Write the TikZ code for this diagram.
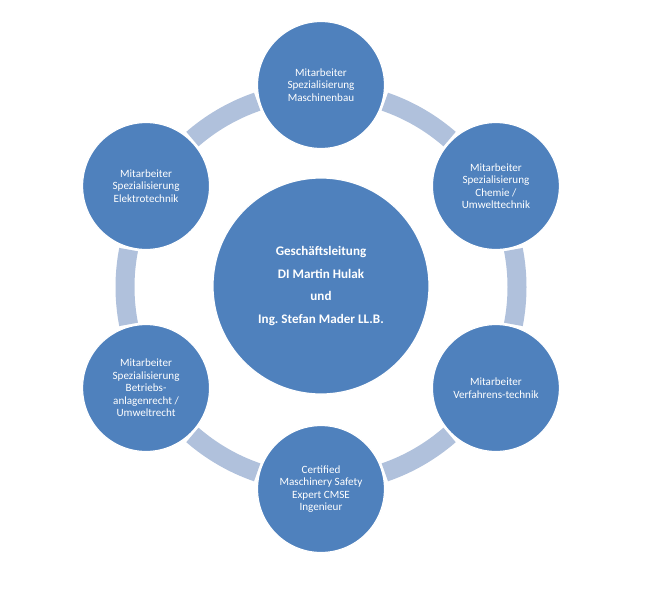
\documentclass[tikz,border=0pt]{standalone}
\usepackage{fontspec}
\setmainfont{Carlito}
\usetikzlibrary{calc}
\definecolor{circblue}{HTML}{4F81BD}
\definecolor{ringblue}{HTML}{B0C1DC}
\frenchspacing
\begin{document}
\begin{tikzpicture}[x=1pt,y=-1pt,
  outer/.style={circle,fill=circblue,draw=white,line width=1.2pt,minimum size=127pt,inner sep=0pt,text=white,align=center,font=\fontsize{11.1}{12.5}\selectfont},
  hub/.style={circle,fill=circblue,draw=white,line width=1.2pt,minimum size=216pt,inner sep=0pt,text=white,align=center,font=\bfseries\fontsize{13.1}{22.7}\selectfont},
  ringseg/.style={draw=ringblue,line width=19pt}]
\useasboundingbox (0,0) rectangle (666,590);
\coordinate (O) at (321,287);
\foreach \a in {30,90,150,210,270,330}
  \draw[ringseg] ($(O)+(\a+19:196)$) arc[start angle=\a+19, end angle=\a+41, radius=196];
\node[hub] (hub) at (321,286) {Geschäftsleitung\\DI Martin Hulak\\und\\Ing. Stefan Mader LL.B.};
\node[outer] (top) at ($(O)+(-90:202)$) {Mitarbeiter\\Spezialisierung\\Maschinenbau};
\node[outer] (ur) at ($(O)+(-30:202)$) {Mitarbeiter\\Spezialisierung\\Chemie /\\Umwelttechnik};
\node[outer] (lr) at ($(O)+(30:202)$) {Mitarbeiter\\Verfahrens-technik};
\node[outer] (bot) at ($(O)+(90:202)$) {Certified\\Maschinery Safety\\Expert CMSE\\Ingenieur};
\node[outer] (ll) at ($(O)+(150:202)$) {Mitarbeiter\\Spezialisierung\\Betriebs-\\anlagenrecht /\\Umweltrecht};
\node[outer] (ul) at ($(O)+(210:202)$) {Mitarbeiter\\Spezialisierung\\Elektrotechnik};
\end{tikzpicture}
\end{document}
